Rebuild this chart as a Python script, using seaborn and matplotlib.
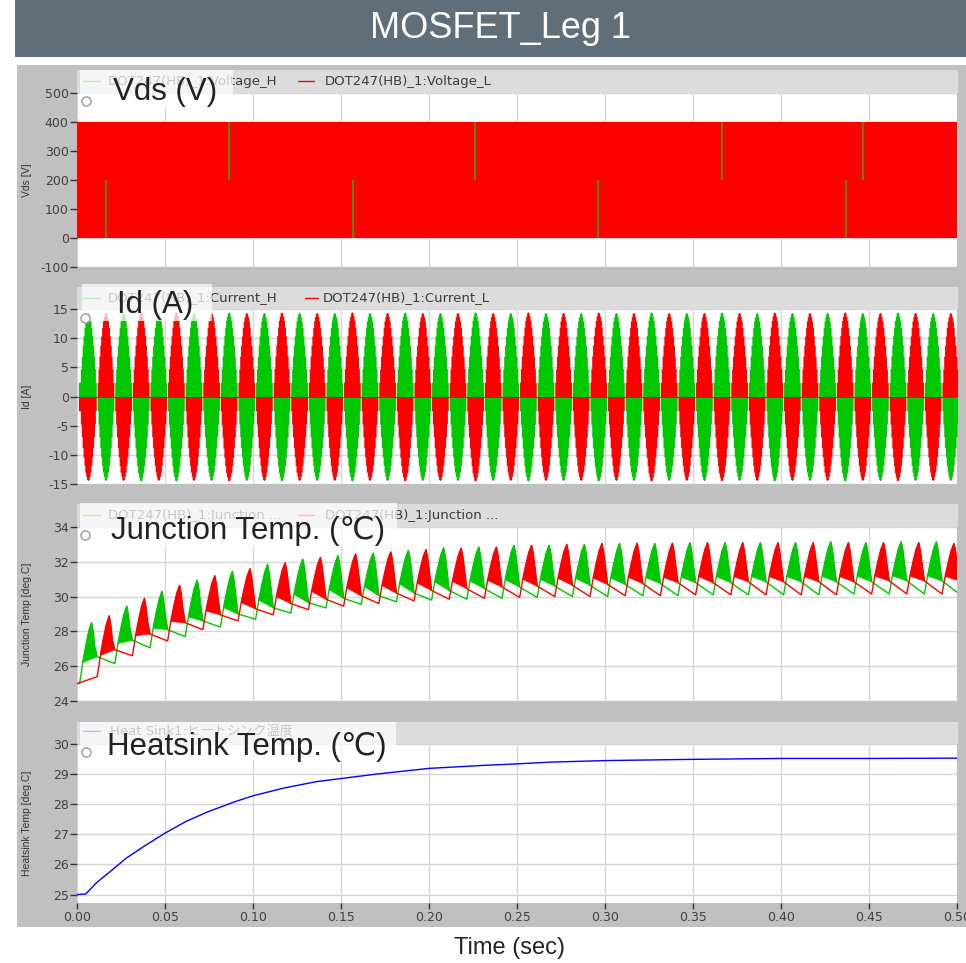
import numpy as np
import pandas as pd
import matplotlib
matplotlib.use("Agg")
import matplotlib.pyplot as plt
import seaborn as sns
from matplotlib.patches import Rectangle
from matplotlib.lines import Line2D

# ---------------- data ----------------
title_text = "MOSFET_Leg 1"
panel_titles = ["Vds (V)", "Id (A)", "Junction Temp. (℃)", "Heatsink Temp. (℃)"]
y_labels = ["Vds [V]", "Id [A]", "Junction Temp [deg.C]", "Heatsink Temp [deg.C]"]
x_label = "Time (sec)"
legend_vds = ["DOT247(HB)_1:Voltage_H", "DOT247(HB)_1:Voltage_L"]
legend_id = ["DOT247(HB)_1:Current_H", "DOT247(HB)_1:Current_L"]
legend_jt = ["DOT247(HB)_1:Junction ...", "DOT247(HB)_1:Junction ..."]
legend_hs = ["Heat Sink1:ヒートシンク温度"]

time_ticks = [0.00, 0.05, 0.10, 0.15, 0.20, 0.25, 0.30, 0.35, 0.40, 0.45, 0.50]
time_tick_labels = ["0.00", "0.05", "0.10", "0.15", "0.20", "0.25",
                    "0.30", "0.35", "0.40", "0.45", "0.50"]
vds_ticks = [-100, 0, 100, 200, 300, 400, 500]
id_ticks = [-15, -10, -5, 0, 5, 10, 15]
jt_ticks = [24, 26, 28, 30, 32, 34]
hs_ticks = [25, 26, 27, 28, 29, 30]

# Vds: low-side switching envelope (0..400 V) and visible high-side glitches
vds_L_t = [0.0, 0.5]
vds_L_on = [400.0, 400.0]
vds_H_spike_t = [0.0163, 0.0864, 0.1566, 0.2260, 0.2960, 0.3667, 0.4370, 0.4464]
vds_H_spike_lo = [0, 200, 0, 200, 0, 200, 0, 200]
vds_H_spike_hi = [200, 400, 200, 400, 200, 400, 200, 400]

# Id: peak of each half-cycle lobe (50 Hz, 50 half cycles) and lobe envelope shape
id_first_lobe_start = 0.0012
id_half_period = 0.01
id_lobe_peak = [14.4, 14.4, 14.4, 14.5, 14.4, 14.5, 14.4, 14.4, 14.5, 14.4,
                14.4, 14.5, 14.4, 14.4, 14.4, 14.5, 14.4, 14.4, 14.5, 14.4,
                14.4, 14.4, 14.5, 14.4, 14.4, 14.5, 14.4, 14.4, 14.4, 14.5,
                14.4, 14.4, 14.5, 14.4, 14.4, 14.4, 14.5, 14.4, 14.4, 14.5,
                14.4, 14.4, 14.4, 14.5, 14.4, 14.4, 14.5, 14.4, 14.4, 14.4]
id_lobe_shape = [0.0, 0.17, 0.33, 0.48, 0.61, 0.72, 0.82, 0.90, 0.95, 0.99, 1.0,
                 0.99, 0.95, 0.90, 0.82, 0.72, 0.61, 0.48, 0.33, 0.17, 0.0]

# Junction temperature: per-cycle trough (start of heating), peak and level after the drop
jt_period = 0.02
jt_H_start = 0.0015
jt_L_start = 0.0115
jt_start_temp = 25.0
jt_H_trough = [25.0, 26.15, 27.05, 27.7, 28.25, 28.7, 29.05, 29.35, 29.55, 29.7,
               29.8, 29.85, 29.9, 29.95, 30.0, 30.0, 30.05, 30.05, 30.1, 30.1,
               30.1, 30.1, 30.15, 30.15, 30.15]
jt_H_peak = [28.5, 29.45, 30.3, 30.95, 31.45, 31.85, 32.15, 32.35, 32.5, 32.65,
             32.8, 32.85, 32.95, 32.95, 33.0, 33.05, 33.05, 33.1, 33.1, 33.1,
             33.1, 33.15, 33.1, 33.15, 33.15]
jt_H_after = [26.55, 27.5, 28.1, 28.6, 29.0, 29.35, 29.65, 29.9, 30.05, 30.2,
              30.35, 30.45, 30.55, 30.6, 30.65, 30.7, 30.75, 30.8, 30.8, 30.85,
              30.85, 30.85, 30.85, 30.9, 30.9]
jt_H_end = 30.25
jt_L_trough = [25.4, 26.6, 27.45, 28.1, 28.6, 28.95, 29.25, 29.45, 29.6, 29.75,
               29.85, 29.9, 29.95, 30.0, 30.0, 30.05, 30.05, 30.1, 30.1, 30.1,
               30.1, 30.1, 30.15, 30.15, 30.15]
jt_L_peak = [28.9, 29.9, 30.65, 31.2, 31.6, 31.95, 32.25, 32.45, 32.57, 32.7,
             32.78, 32.85, 32.95, 33.0, 33.05, 33.07, 33.07, 33.1, 33.1, 33.1,
             33.1, 33.1, 33.1, 33.1, 33.05]
jt_L_after = [26.95, 27.85, 28.5, 28.95, 29.3, 29.6, 29.85, 30.05, 30.2, 30.35,
              30.45, 30.55, 30.6, 30.65, 30.7, 30.75, 30.8, 30.8, 30.85, 30.85,
              30.85, 30.85, 30.9, 30.9, 30.9]
# heating-lobe shape relative to the heating start
jt_profile_t = [0.0, 0.0018, 0.0035, 0.0052, 0.0068, 0.0077, 0.0086]
jt_profile_f = [0.0, 0.35, 0.62, 0.86, 1.0, 0.85, 0.60]
jt_after_t = 0.0100

# Heatsink temperature
hs_t = [0.0, 0.005, 0.011, 0.019, 0.028, 0.038, 0.050, 0.062, 0.074, 0.089,
        0.100, 0.117, 0.136, 0.151, 0.170, 0.200, 0.231, 0.250, 0.270, 0.301,
        0.350, 0.400, 0.450, 0.500]
hs_T = [25.0, 25.02, 25.39, 25.77, 26.21, 26.6, 27.04, 27.43, 27.74, 28.07,
        28.28, 28.53, 28.75, 28.86, 29.0, 29.19, 29.29, 29.34, 29.4, 29.45,
        29.49, 29.52, 29.52, 29.53]

# ---------------- colours ----------------
C_GREEN = "#00c800"
C_RED = "#ff0000"
C_BLUE = "#0000ff"
C_GLITCH = "#4a9600"

# ---------------- figure ----------------
sns.set_style("white")
plt.rcParams["font.family"] = ["DejaVu Sans"]
plt.rcParams["axes.unicode_minus"] = False

W, H = 966, 963
fig = plt.figure(figsize=(W / 100, H / 100), dpi=100)


def fx(px):
    return px / W


def fy(py):
    return 1 - py / H


# title bar and grey panel
fig.add_artist(Rectangle((fx(15), fy(57)), fx(966 - 15), 57 / H,
                         facecolor="#5f6e78", edgecolor="none", zorder=-10))
fig.add_artist(Rectangle((fx(17), fy(927)), fx(966 - 17), (927 - 65) / H,
                         facecolor="#c0c0c0", edgecolor="none", zorder=-10))
fig.text(fx(500), fy(29), title_text, color="white", fontsize=26,
         family=["Liberation Sans", "DejaVu Sans"], ha="center", va="center")

AX_L, AX_R = 77, 957
axes_px = [(93, 267), (309, 484), (527, 701), (744, 903)]
strip_px = [(70, 93), (287, 309), (504, 527), (722, 744)]
axes = []
for (t, b) in axes_px:
    ax = fig.add_axes([fx(AX_L), fy(b), fx(AX_R - AX_L), (b - t) / H])
    ax.set_facecolor("white")
    ax.set_xlim(0, 0.5)
    ax.set_xticks(time_ticks)
    ax.grid(True, color="#d6d6d6", lw=1.0)
    ax.set_axisbelow(True)
    for s in ax.spines.values():
        s.set_visible(False)
    ax.tick_params(axis="y", left=True, direction="out", length=5, width=1,
                   color="#333333", labelsize=9, labelcolor="#404040", pad=1)
    ax.tick_params(axis="x", bottom=False, labelbottom=False)
    axes.append(ax)

for (t, b) in strip_px:
    fig.add_artist(Rectangle((fx(AX_L), fy(b)), fx(958 - AX_L), (b - t) / H,
                             facecolor="#dcdcdc", edgecolor="none", zorder=1))

ax_v, ax_i, ax_j, ax_h = axes

# ---- Vds ----
ax_v.fill_between(vds_L_t, 0, vds_L_on, color=C_RED, lw=0, zorder=2)
ax_v.vlines(vds_H_spike_t, vds_H_spike_lo, vds_H_spike_hi, color=C_GLITCH,
            lw=1.3, zorder=3)
ax_v.set_ylim(-100, 500)
ax_v.set_yticks(vds_ticks)

# ---- Id ----
shape = np.array(id_lobe_shape)
rel = np.linspace(0, id_half_period, len(shape))
ts, ih, il = [np.array([0.0])], [np.array([0.0])], [np.array([0.0])]
for j, pk in enumerate(id_lobe_peak):
    sgn = 1 if j % 2 == 0 else -1
    ts.append(id_first_lobe_start + j * id_half_period + rel[1:])
    ih.append(sgn * pk * shape[1:])
    il.append(-sgn * pk * shape[1:])
id_t = np.concatenate(ts)
id_H = np.concatenate(ih)
id_L = np.concatenate(il)
ax_i.fill_between(id_t, 0, id_H, step="mid", color=C_GREEN, lw=0, zorder=2)
ax_i.fill_between(id_t, 0, id_L, step="mid", color=C_RED, lw=0, zorder=3)
ax_i.axhline(0, color="#d21e00", lw=0.7, zorder=4)
ax_i.set_ylim(-15, 15)
ax_i.set_yticks(id_ticks)


# ---- Junction temperature ----
def junction_series(start, troughs, peaks, afters, first_temp, end_temp=None):
    line_t, line_T = [0.0], [first_temp]
    polys = []
    pt = np.array(jt_profile_t)
    pf = np.array(jt_profile_f)
    for k, (tr, pk, af) in enumerate(zip(troughs, peaks, afters)):
        t0 = start + k * jt_period
        tt = list(t0 + pt) + [t0 + jt_after_t]
        TT = list(tr + pf * (pk - tr)) + [af]
        line_t += tt
        line_T += TT
        polys.append((tt[1:], TT[1:]))
    if end_temp is not None:
        line_t.append(0.5)
        line_T.append(end_temp)
    return np.array(line_t), np.array(line_T), polys


for (start, tr, pk, af, end, col, z) in [
        (jt_H_start, jt_H_trough, jt_H_peak, jt_H_after, jt_H_end, C_GREEN, 2),
        (jt_L_start, jt_L_trough, jt_L_peak, jt_L_after, None, C_RED, 3)]:
    lt, lT, polys = junction_series(start, tr, pk, af, jt_start_temp, end)
    df = pd.DataFrame({"t": lt, "T": lT})
    sns.lineplot(data=df, x="t", y="T", ax=ax_j, color=col, lw=1.0,
                 sort=False, estimator=None, zorder=z)
    for (pt_, pT_) in polys:
        ax_j.fill(pt_, pT_, color=col, lw=0.6, zorder=z)
ax_j.set_ylim(24, 34)
ax_j.set_yticks(jt_ticks)

# ---- Heatsink temperature ----
sns.lineplot(x=hs_t, y=hs_T, ax=ax_h, color=C_BLUE, lw=1.0, sort=False,
             estimator=None, zorder=3)
ax_h.set_ylim(24.72, 30)
ax_h.set_yticks(hs_ticks)
ax_h.tick_params(axis="x", bottom=True, labelbottom=True, direction="out",
                 length=4, width=1, color="#333333", labelsize=9,
                 labelcolor="#404040", pad=2)
ax_h.set_xticklabels(time_tick_labels)

for ax, lab in zip(axes, y_labels):
    ax.set_xlabel("")
    ax.set_ylabel(lab, fontsize=7.5, color="#333333",
                  family=["Liberation Sans", "DejaVu Sans"])
    ax.yaxis.set_label_coords((32 - AX_L) / (AX_R - AX_L), 0.5)

# ---- legend strips ----
legend_rows = [
    (81, [(83, 100, 108, C_GREEN, legend_vds[0]), (298, 314, 325, C_RED, legend_vds[1])]),
    (298, [(83, 100, 108, C_GREEN, legend_id[0]), (305, 318, 323, C_RED, legend_id[1])]),
    (515, [(83, 100, 108, C_GREEN, legend_jt[0]), (298, 314, 325, C_RED, legend_jt[1])]),
    (731, [(83, 100, 110, C_BLUE, legend_hs[0])]),
]
for yc, items in legend_rows:
    for (x0, x1, xt, col, txt) in items:
        fig.add_artist(Line2D([fx(x0), fx(x1)], [fy(yc), fy(yc)], color=col,
                              lw=1.0, zorder=2))
        fig.text(fx(xt), fy(yc), txt, fontsize=9.5, color="#3a3a3a",
                 ha="left", va="center", zorder=2,
                 family=["DejaVu Sans", "Noto Sans CJK JP"])

# ---- semi-transparent title boxes with big labels ----
boxes = [(80, 233, 70, 108), (82, 212, 284, 321), (80, 397, 503, 547), (80, 396, 722, 760)]
text_pos = [(113, 100), (117, 313), (111, 539), (107, 755)]
icon_pos = [(86, 101), (85, 318), (85, 535), (86, 752)]
for (x0, x1, y0, y1), (tx, ty), (ix, iy), txt in zip(boxes, text_pos, icon_pos, panel_titles):
    fig.add_artist(Rectangle((fx(x0), fy(y1)), fx(x1 - x0), (y1 - y0) / H,
                             facecolor="white", alpha=0.72, edgecolor="none", zorder=5))
    fig.add_artist(Line2D([fx(ix)], [fy(iy)], marker="o", ms=6.5, mfc="white",
                          mec="#a8a8a8", mew=1.2, ls="none", zorder=6))
    fig.text(fx(tx), fy(ty), txt, fontsize=22.5, color="#222222", ha="left",
             va="baseline", zorder=7, family=["Liberation Sans", "DejaVu Sans"])

fig.text(fx(510), fy(948), x_label, fontsize=17, color="#222222",
         ha="center", va="center", family=["Liberation Sans", "DejaVu Sans"])

fig.savefig("out.png", dpi=100)
